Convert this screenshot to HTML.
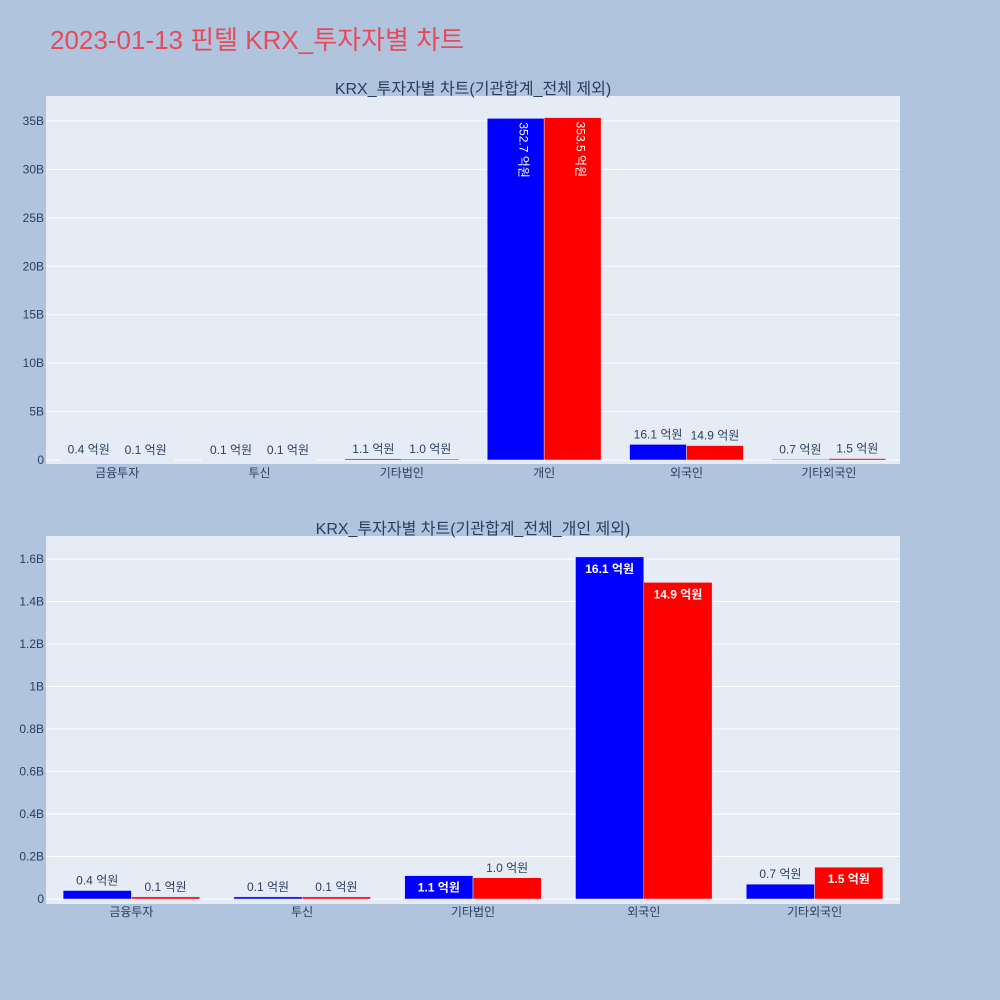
<!DOCTYPE html>
<html><head><meta charset="utf-8">
<style>
body{margin:0;background:#b0c4de;}
svg{display:block;font-family:"Liberation Sans","Noto Sans CJK KR",sans-serif;}
</style></head>
<body>
<svg id="c" width="1000" height="1000">
<rect width="1000" height="1000" fill="#b0c4de"/>
<text x="50" y="49" font-size="26" fill="#e8495b">2023-01-13 핀텔 KRX_투자자별 차트</text>
</svg>
<script>
const cats1=["금융투자","투신","기타법인","개인","외국인","기타외국인"];
const buy1=[0.04,0.01,0.11,35.27,1.61,0.07];
const sell1=[0.01,0.01,0.10,35.35,1.49,0.15];
const ticks1=[0,5,10,15,20,25,30,35];
const tickLabels1=["0","5B","10B","15B","20B","25B","30B","35B"];
const cats2=["금융투자","투신","기타법인","외국인","기타외국인"];
const buy2=[0.04,0.01,0.11,1.61,0.07];
const sell2=[0.01,0.01,0.10,1.49,0.15];
const ticks2=[0,0.2,0.4,0.6,0.8,1,1.2,1.4,1.6];
const tickLabels2=["0","0.2B","0.4B","0.6B","0.8B","1B","1.2B","1.4B","1.6B"];
const NS="http://www.w3.org/2000/svg";
const svg=document.getElementById('c');
function mk(tag,attrs,parent){const e=document.createElementNS(NS,tag);for(const k in attrs)e.setAttribute(k,attrs[k]);(parent||svg).appendChild(e);return e;}
function fmt(v){return (v*10).toFixed(1)+" 억원";}
function drawChart(o){
  const g=mk('g',{});
  
  
  const bg=mk('rect',{x:o.x0,y:o.top,width:o.x1-o.x0,height:o.bot-o.top,fill:'#e5ecf6'},g);
  
  
  const yS=v=>o.zero-(v/o.max)*(o.zero-o.maxY);
  const t=mk('text',{x:(o.x0+o.x1)/2,y:o.top-2,'font-size':16,fill:'#2a3f5f','text-anchor':'middle'},g);
  t.textContent=o.title;
  
  
  o.ticks.forEach((tv,i)=>{
    const y=yS(tv);
    const l=mk('line',{x1:o.x0,x2:o.x1,y1:y,y2:y,stroke:'#fff','stroke-width':1},g);
    
    
    const tx=mk('text',{x:o.x0-2,y:y+4,'font-size':12,fill:'#2a3f5f','text-anchor':'end'},g);
    tx.textContent=o.tickLabels[i];
    
    
  });
  const band=(o.x1-o.x0)/o.cats.length, bw=band*0.4;
  o.cats.forEach((c,i)=>{
    const cx=o.x0+band*(i+0.5);
    const cl=mk('text',{x:cx,y:o.zero+17,'font-size':12,fill:'#2a3f5f','text-anchor':'middle'},g);
    cl.textContent=c;
    
    
    [[o.buy[i],'#0000ff',cx-bw],[o.sell[i],'#ff0000',cx]].forEach(([v,col,bx],k)=>{
      const y=yS(v),h=o.zero-y;
      const r=mk('rect',{x:bx,y:y,width:bw,height:Math.max(h,0.5),fill:col,stroke:'#e5ecf6','stroke-width':0.5},g);
      
      
      let lab;
      if(h>=22){
        if(o.rot){
          lab=mk('text',{x:0,y:0,'font-size':12,fill:'#fff',transform:`translate(${bx+bw/2+4},${y+4}) rotate(90)`},g);
        }else{
          lab=mk('text',{x:bx+bw/2,y:y+16,'font-size':12,'font-weight':'bold',fill:'#fff','text-anchor':'middle'},g);
        }
      }else{
        lab=mk('text',{x:bx+bw/2,y:y-6,'font-size':12,fill:'#2a3f5f','text-anchor':'middle'},g);
      }
      lab.textContent=fmt(v);
      
      
    });
  });
}
drawChart({name:'chart-all',title:'KRX_투자자별 차트(기관합계_전체 제외)',x0:46,x1:900,top:96,bot:464,zero:460,maxY:121,max:35,ticks:ticks1,tickLabels:tickLabels1,cats:cats1,buy:buy1,sell:sell1,rot:true});
drawChart({name:'chart-excl-individual',title:'KRX_투자자별 차트(기관합계_전체_개인 제외)',x0:46,x1:900,top:536,bot:904,zero:899,maxY:559,max:1.6,ticks:ticks2,tickLabels:tickLabels2,cats:cats2,buy:buy2,sell:sell2,rot:false});
</script>
</body></html>
